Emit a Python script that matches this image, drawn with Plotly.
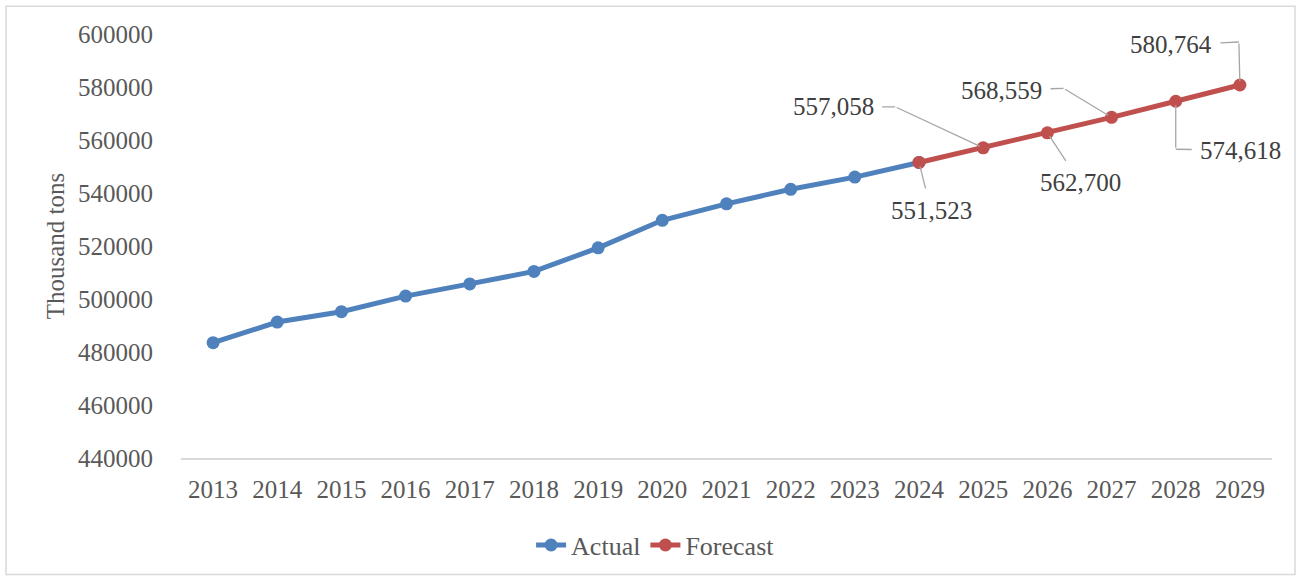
import plotly.graph_objects as go

years = [str(y) for y in range(2013, 2030)]
actual_years = [str(y) for y in range(2013, 2025)]
actual_vals = [483500, 491300, 495200, 501100, 505700, 510400, 519300, 529700, 535900, 541400, 546000, 551523]
forecast_years = [str(y) for y in range(2024, 2030)]
forecast_vals = [551523, 557058, 562700, 568559, 574618, 580764]
forecast_labels = ["551,523", "557,058", "562,700", "568,559", "574,618", "580,764"]
# leader-line elbow (pixel offset from point) and label offset from the elbow
elbows = [(0, 0), (-88, -41), (0, 0), (-48, -29), (0, 48), (-1, -43)]
label_offsets = [(12, 48), (-62, 0), (33, 50), (-62, 2), (65, 1), (-68, 3)]

BLUE = "#4F81BD"
RED = "#C0504D"
GREY_TXT = "#595959"
LEADER = "#A6A6A6"
FONT = "Liberation Serif"

fig = go.Figure()
fig.add_trace(go.Scatter(x=actual_years, y=actual_vals, mode="lines+markers", name="Actual",
                         line=dict(color=BLUE, width=5), marker=dict(size=13, color=BLUE)))
fig.add_trace(go.Scatter(x=forecast_years, y=forecast_vals, mode="lines+markers", name="Forecast",
                         line=dict(color=RED, width=5), marker=dict(size=13, color=RED)))

for xv, yv, lab, (cx, cy), (ax, ay) in zip(forecast_years, forecast_vals, forecast_labels, elbows, label_offsets):
    xi = years.index(xv)
    if (cx, cy) != (0, 0):
        # segment from elbow to the point
        fig.add_annotation(x=xi, y=yv, text="", showarrow=True, arrowhead=0, arrowwidth=1.3,
                           arrowcolor=LEADER, ax=cx, ay=cy, standoff=4)
    # label with segment to elbow (or point)
    fig.add_annotation(x=xi, y=yv, xshift=cx, yshift=-cy, text=lab, showarrow=True, arrowhead=0,
                       arrowwidth=1.3, arrowcolor=LEADER, ax=ax, ay=ay, borderpad=8,
                       standoff=4 if (cx, cy) == (0, 0) else 0,
                       font=dict(family=FONT, size=25, color="#404040"))

L, R, T, B = 181, 28, 34, 121
W, H = 1300, 581
pw, ph = W - L - R, H - T - B
fig.add_shape(type="rect", xref="paper", yref="paper",
              x0=(6 - L) / pw, x1=(W - 5 - L) / pw,
              y0=-(H - 4 - T - ph) / ph, y1=1 + (T - 6) / ph,
              line=dict(color="#D9D9D9", width=1.5), fillcolor="rgba(0,0,0,0)", layer="below")

fig.update_layout(
    width=W, height=H,
    margin=dict(l=L, r=R, t=T, b=B),
    paper_bgcolor="white", plot_bgcolor="white",
    font=dict(family=FONT, color=GREY_TXT, size=24),
    showlegend=True,
    legend=dict(orientation="h", x=0.435, xanchor="center", y=-0.15, yanchor="top",
                font=dict(family=FONT, size=26, color=GREY_TXT)),
    xaxis=dict(type="category", categoryorder="array", categoryarray=years,
               range=[-0.5, 16.5], showgrid=False, showline=True, linecolor="#D9D9D9", linewidth=1.5,
               ticks="outside", ticklen=8, tickcolor="rgba(0,0,0,0)",
               tickfont=dict(family=FONT, size=25, color=GREY_TXT)),
    yaxis=dict(range=[440000, 600000], dtick=20000, showgrid=False, zeroline=False,
               showline=False, ticks="outside", ticklen=22, tickcolor="rgba(0,0,0,0)", tickformat="d",
               tickfont=dict(family=FONT, size=25, color=GREY_TXT),
               title=dict(text="Thousand tons", font=dict(family=FONT, size=25, color=GREY_TXT), standoff=6)),
)

fig.write_html("out.html")
